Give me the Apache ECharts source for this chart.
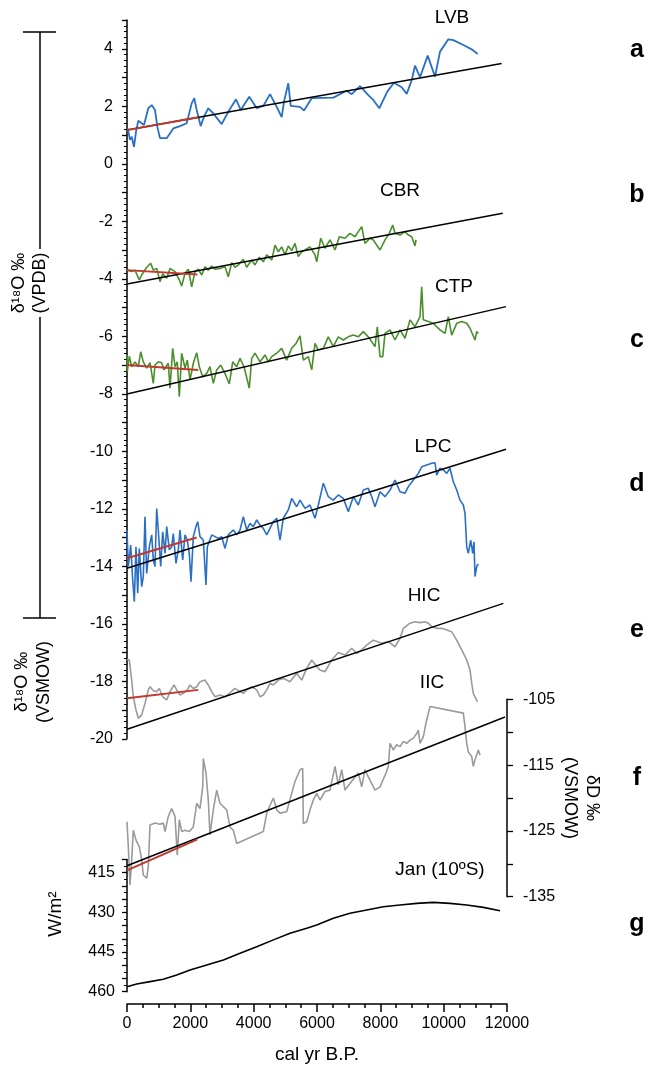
<!DOCTYPE html>
<html>
<head>
<meta charset="utf-8">
<script src="https://cdn.jsdelivr.net/npm/echarts@6/dist/echarts.min.js"></script>
<style>html,body{margin:0;padding:0;background:#fff}#c{width:649px;height:1067px}</style>
</head>
<body>
<div id="c"></div>
<script>
// ---------- DATA (x = cal yr B.P.) ----------
const LVB = [[22,1.23],[95,0.83],[148,0.94],[221,0.59],[284,1.11],[357,1.50],[464,1.41],[537,1.35],[673,1.93],[780,2.04],[884,1.87],[957,1.29],[1042,0.89],[1254,0.89],[1462,1.23],[1674,1.31],[1885,1.41],[2043,2.10],[2125,2.28],[2201,1.87],[2327,1.31],[2432,1.64],[2567,1.93],[2725,1.75],[2990,1.38],[3199,1.81],[3442,2.24],[3591,1.87],[3862,2.33],[4096,1.93],[4304,2.01],[4516,2.42],[4727,1.98],[4885,1.62],[4958,2.16],[5094,2.80],[5170,2.01],[5463,1.98],[5590,1.85],[5833,2.28],[6515,2.30],[6938,2.54],[7096,2.42],[7358,2.70],[7620,2.39],[7778,2.22],[7968,1.93],[8220,2.51],[8432,2.82],[8675,2.66],[8833,2.43],[8991,2.91],[9095,3.41],[9253,3.01],[9496,3.76],[9727,3.03],[9885,3.90],[10147,4.33],[10305,4.30],[10621,4.13],[10886,3.98],[11075,3.82]];
const CBR = [[0,-3.70],[148,-3.75],[253,-3.70],[388,-4.04],[464,-3.87],[622,-3.60],[748,-3.46],[831,-3.70],[938,-3.64],[1042,-4.10],[1127,-3.83],[1254,-3.98],[1358,-3.64],[1516,-3.75],[1652,-4.04],[1727,-4.25],[1832,-3.81],[1936,-3.67],[2043,-4.28],[2147,-3.75],[2252,-3.67],[2359,-3.87],[2463,-3.58],[2567,-3.70],[2675,-3.56],[2779,-3.67],[2937,-3.64],[3095,-3.58],[3199,-3.93],[3306,-3.44],[3411,-3.60],[3515,-3.52],[3673,-3.32],[3780,-3.60],[3938,-3.35],[4042,-3.52],[4178,-3.25],[4304,-3.41],[4412,-3.17],[4570,-3.35],[4674,-2.83],[4778,-3.06],[4885,-2.89],[4990,-3.17],[5094,-2.86],[5201,-3.02],[5305,-2.77],[5410,-3.23],[5517,-3.06],[5621,-3.00],[5779,-2.89],[5937,-3.17],[5991,-3.41],[6117,-2.59],[6253,-2.94],[6411,-2.65],[6569,-3.00],[6704,-2.54],[6884,-2.59],[7042,-2.42],[7200,-2.54],[7304,-2.36],[7412,-2.19],[7516,-2.77],[7674,-2.59],[7778,-2.65],[7990,-3.00],[8148,-2.65],[8283,-2.42],[8391,-2.13],[8464,-2.42],[8622,-2.48],[8779,-2.36],[8884,-2.48],[8991,-2.54],[9095,-2.86],[9127,-2.65]];
const CTP = [[0,-6.65],[10,-7.23],[73,-6.69],[148,-7.06],[253,-6.89],[357,-7.06],[433,-6.54],[515,-6.89],[622,-7.11],[727,-6.92],[831,-7.64],[884,-7.00],[989,-6.89],[1096,-6.92],[1168,-7.17],[1304,-6.94],[1358,-7.81],[1443,-6.42],[1516,-7.06],[1588,-6.89],[1652,-8.10],[1727,-6.59],[1832,-7.11],[1904,-6.83],[1990,-7.52],[2094,-6.94],[2201,-6.57],[2283,-7.06],[2391,-7.41],[2517,-7.29],[2621,-7.06],[2725,-7.64],[2833,-7.17],[2959,-7.00],[3095,-7.29],[3231,-7.66],[3338,-6.89],[3464,-7.06],[3569,-6.77],[3695,-7.06],[3862,-7.81],[3938,-6.77],[4042,-6.59],[4200,-6.89],[4358,-6.65],[4462,-6.89],[4570,-6.71],[4727,-6.59],[4885,-6.42],[5043,-6.83],[5201,-6.42],[5337,-6.25],[5463,-5.99],[5568,-6.83],[5726,-6.71],[5833,-7.17],[5937,-6.25],[6042,-6.48],[6200,-6.42],[6357,-6.02],[6515,-6.36],[6673,-6.02],[6831,-6.13],[6989,-6.02],[7147,-5.96],[7304,-6.02],[7462,-5.84],[7620,-6.02],[7832,-6.36],[7904,-5.67],[7990,-6.71],[8075,-6.71],[8148,-5.90],[8306,-5.78],[8464,-6.13],[8622,-5.78],[8779,-6.07],[8937,-5.43],[9095,-5.67],[9253,-5.32],[9307,-4.28],[9357,-5.43],[9515,-5.49],[9673,-5.55],[9780,-5.67],[9885,-5.78],[10043,-5.90],[10147,-5.32],[10254,-5.96],[10412,-5.55],[10570,-5.49],[10728,-5.55],[10832,-5.72],[10990,-6.13],[11043,-5.84],[11094,-5.90]];
const LPC = [[0,-12.74],[41,-14.01],[117,-13.26],[180,-14.48],[231,-15.23],[284,-13.32],[338,-14.94],[388,-13.38],[464,-14.71],[515,-14.36],[568,-12.28],[622,-14.25],[704,-13.32],[780,-12.91],[831,-13.78],[884,-14.01],[938,-11.99],[988,-12.74],[1064,-14.01],[1127,-12.80],[1200,-13.55],[1254,-12.62],[1336,-13.43],[1412,-13.32],[1462,-12.86],[1547,-13.90],[1620,-13.43],[1674,-12.74],[1759,-13.78],[1832,-12.91],[1904,-13.09],[1967,-13.55],[2021,-14.54],[2094,-12.97],[2179,-12.62],[2233,-12.45],[2305,-12.97],[2410,-13.09],[2495,-14.65],[2536,-13.32],[2675,-12.91],[2779,-12.97],[2883,-13.03],[2991,-12.97],[3095,-13.38],[3199,-12.91],[3357,-12.74],[3464,-12.91],[3569,-12.74],[3673,-12.28],[3780,-12.74],[3884,-12.51],[3989,-12.62],[4096,-12.39],[4200,-12.57],[4304,-12.68],[4412,-12.91],[4516,-12.68],[4620,-12.45],[4727,-12.33],[4832,-13.09],[4936,-12.33],[5094,-12.04],[5201,-11.64],[5359,-11.93],[5463,-11.70],[5621,-11.99],[5779,-11.87],[5937,-12.33],[6042,-11.87],[6200,-11.11],[6357,-11.58],[6515,-11.70],[6673,-11.52],[6831,-11.64],[6989,-12.10],[7147,-11.58],[7304,-11.87],[7462,-11.35],[7620,-11.29],[7728,-11.58],[7832,-11.93],[7990,-11.41],[8148,-11.58],[8306,-11.35],[8464,-11.00],[8622,-11.41],[8779,-11.46],[8884,-11.23],[9042,-11.00],[9199,-10.77],[9307,-10.54],[9465,-10.48],[9622,-10.42],[9727,-10.40],[9780,-10.83],[9885,-10.59],[9989,-10.65],[10096,-10.77],[10200,-10.59],[10305,-11.06],[10412,-11.35],[10516,-11.70],[10621,-11.87],[10674,-12.16],[10728,-13.32],[10778,-13.55],[10854,-13.09],[10917,-13.55],[10958,-13.15],[10990,-14.36],[11043,-14.01],[11094,-13.92]];
const HIC = [[0,-17.24],[73,-17.26],[148,-17.96],[199,-18.54],[284,-19.00],[357,-19.29],[464,-19.17],[568,-18.77],[673,-18.30],[727,-18.19],[831,-18.33],[938,-18.36],[1020,-18.25],[1127,-18.54],[1254,-18.65],[1358,-18.36],[1484,-18.13],[1569,-18.30],[1674,-18.48],[1778,-18.42],[1904,-18.30],[1990,-18.13],[2094,-18.25],[2201,-18.19],[2305,-18.02],[2463,-17.96],[2567,-18.13],[2675,-18.36],[2779,-18.54],[2937,-18.48],[3095,-18.54],[3253,-18.40],[3411,-18.25],[3569,-18.36],[3673,-18.42],[3780,-18.30],[3938,-18.19],[4096,-18.30],[4200,-18.54],[4304,-18.48],[4412,-18.30],[4516,-18.07],[4620,-18.13],[4778,-17.96],[4936,-17.90],[5148,-18.02],[5359,-17.72],[5517,-17.96],[5675,-17.55],[5833,-17.26],[5991,-17.49],[6095,-17.61],[6253,-17.67],[6464,-17.26],[6673,-17.00],[6884,-17.09],[7096,-16.85],[7254,-17.03],[7412,-16.91],[7569,-16.74],[7778,-16.57],[8043,-16.68],[8252,-16.62],[8464,-16.80],[8622,-16.51],[8726,-16.16],[8937,-15.98],[9095,-15.93],[9253,-15.96],[9411,-15.93],[9515,-15.98],[9622,-16.10],[9780,-16.16],[9938,-16.16],[10096,-16.22],[10254,-16.28],[10412,-16.57],[10570,-16.91],[10728,-17.26],[10832,-17.61],[10886,-18.07],[10936,-18.42],[11063,-18.71]];
const IIC = [[0,-123.6],[41,-127.4],[95,-133.2],[148,-129.4],[199,-124.9],[284,-126.4],[388,-127.4],[464,-129.4],[515,-131.7],[622,-132.2],[673,-130.4],[727,-124.1],[884,-123.8],[1042,-124.0],[1146,-123.8],[1200,-125.1],[1304,-122.8],[1412,-121.6],[1516,-122.8],[1588,-128.7],[1652,-123.3],[1727,-125.1],[1832,-124.9],[1967,-125.1],[2094,-124.4],[2201,-120.8],[2305,-121.6],[2391,-118.3],[2410,-114.0],[2495,-116.2],[2567,-120.3],[2621,-125.6],[2725,-121.8],[2833,-118.8],[2937,-120.8],[3041,-121.3],[3148,-121.8],[3253,-124.4],[3357,-124.9],[3464,-126.9],[4304,-125.1],[4412,-122.3],[4516,-121.1],[4620,-120.0],[4727,-121.8],[4832,-122.3],[5043,-122.1],[5201,-119.3],[5305,-117.5],[5359,-117.2],[5463,-115.7],[5549,-115.5],[5568,-123.9],[5675,-123.6],[5779,-121.8],[5884,-120.3],[5991,-119.3],[6095,-120.3],[6253,-119.0],[6411,-118.8],[6569,-115.2],[6673,-118.0],[6780,-115.7],[6884,-118.8],[7042,-117.8],[7304,-116.2],[7412,-118.3],[7516,-115.7],[7620,-116.8],[7728,-117.8],[7832,-118.8],[7990,-118.3],[8179,-116.2],[8252,-115.2],[8306,-111.7],[8411,-112.7],[8517,-111.9],[8622,-112.2],[8726,-111.4],[8833,-111.7],[8937,-111.2],[9042,-110.9],[9149,-110.2],[9199,-109.7],[9253,-111.7],[9357,-110.7],[9443,-108.6],[9569,-106.1],[10621,-107.1],[10674,-109.2],[10728,-111.7],[10778,-113.0],[10886,-113.7],[10936,-115.2],[10990,-114.2],[11094,-112.7],[11148,-113.5]];
const JAN10S = [[0,458.1],[306,457.1],[727,456.2],[1146,455.3],[1570,453.7],[1990,451.8],[2517,449.9],[3044,448.0],[3569,445.5],[4096,443.0],[4623,440.4],[5148,437.9],[5675,436.0],[5991,434.8],[6515,432.2],[7042,430.3],[7569,429.1],[8095,427.9],[8622,427.2],[9149,426.6],[9673,426.2],[10200,426.6],[10727,427.2],[11252,428.1],[11780,429.4]];
// linear trends (black) and 0-2.2 ka trends (red)
const TREND_LVB = [[0,1.17],[11830,3.49]];
const TREND_CBR = [[0,-4.18],[11865,-1.72]];
const TREND_CTP = [[0,-8.01],[11970,-4.97]];
const TREND_LPC = [[0,-14.07],[11970,-9.93]];
const TREND_HIC = [[0,-19.67],[11884,-15.29]];
const TREND_IIC = [[0,-130.3],[11937,-107.7]];
const RED_LVB = [[0,1.17],[2250,1.62]];
const RED_CBR = [[0,-3.70],[2220,-3.85]];
const RED_CTP = [[0,-7.00],[2250,-7.17]];
const RED_LPC = [[0,-13.72],[2200,-13.00]];
const RED_HIC = [[0,-18.59],[2250,-18.30]];
const RED_IIC = [[0,-131.0],[2220,-126.3]];
// tick labels
const X_TICKS = [0,2000,4000,6000,8000,10000,12000];
const D18O_LABELS = [-20,-18,-16,-14,-12,-10,-8,-6,-4,-2,0,2,4];
const DD_LABELS = [-135,-125,-115,-105];
const INSOL_LABELS = [415,430,445,460];
const PANEL_NAMES = ['LVB','CBR','CTP','LPC','HIC','IIC','Jan (10ºS)'];
const PANEL_LETTERS = ['a','b','c','d','e','f','g'];

// ---------- CHART ----------
const FF = '"Liberation Sans", Arial, Helvetica, sans-serif';
const chart = echarts.init(document.getElementById('c'), null, {renderer:'canvas'});
const BLUE = '#2a6fc6', GREEN = '#4b8e2c', GRAY = '#9a9a9a', RED = '#c0392f';

function ln(data, yi, color, width, z){
  const xi = yi === 0 ? 0 : (yi === 1 ? 1 : 2);
  return {type:'line', xAxisIndex:xi, yAxisIndex:yi, data:data, showSymbol:false, symbol:'none',
    lineStyle:{color:color, width:width}, z:z, silent:true, animation:false, clip:false};
}
const L = 127, W = 380;
const blackAxis = {show:true, onZero:false, lineStyle:{color:'#000', width:1.5}};
const TF = 16; // tick label font size

const namePos = [[452,18],[400,191],[454,287],[433,447],[424,596],[432,683],[440,870]];
const letterY = [50,195,340,484,630,778,924];

const graphics = [];
PANEL_NAMES.forEach((n,i)=>graphics.push({type:'text', x:namePos[i][0], y:namePos[i][1],
  style:{text:n, fontSize:19, fontFamily:FF, fill:'#000', align:'center', verticalAlign:'middle'}}));
PANEL_LETTERS.forEach((n,i)=>graphics.push({type:'text', x:637, y:letterY[i],
  style:{text:n, fontSize:25, fontWeight:'bold', fontFamily:FF, fill:'#000', align:'center', verticalAlign:'middle'}}));
// bracket for VPDB records
const br = {stroke:'#000', lineWidth:1.5};
graphics.push({type:'line', shape:{x1:40,y1:32,x2:40,y2:249}, style:br});
graphics.push({type:'line', shape:{x1:40,y1:317,x2:40,y2:618}, style:br});
graphics.push({type:'line', shape:{x1:23,y1:32,x2:56,y2:32}, style:br});
graphics.push({type:'line', shape:{x1:23,y1:618,x2:56,y2:618}, style:br});
graphics.push({type:'text', x:30, y:283, rotation:Math.PI/2,
  style:{text:'δ¹⁸O ‰\n(VPDB)', fontSize:18, lineHeight:21, fontFamily:FF, fill:'#000', align:'center', verticalAlign:'middle'}});
graphics.push({type:'text', x:33, y:682, rotation:Math.PI/2,
  style:{text:'δ¹⁸O ‰\n(VSMOW)', fontSize:18, lineHeight:22, fontFamily:FF, fill:'#000', align:'center', verticalAlign:'middle'}});
graphics.push({type:'text', x:56, y:914, rotation:Math.PI/2,
  style:{text:'W/m²', fontSize:19, fontFamily:FF, fill:'#000', align:'center', verticalAlign:'middle'}});
graphics.push({type:'text', x:581, y:798, rotation:-Math.PI/2,
  style:{text:'δD ‰\n(VSMOW)', fontSize:18, lineHeight:22, fontFamily:FF, fill:'#000', align:'center', verticalAlign:'middle'}});
graphics.push({type:'text', x:L+W/2, y:1055,
  style:{text:'cal yr B.P.', fontSize:19, fontFamily:FF, fill:'#000', align:'center', verticalAlign:'middle'}});

const option = {
  animation:false,
  backgroundColor:'#fff',
  grid:[
    {left:L, width:W, top:20, height:718.75},
    {left:L, width:W, top:699.3, height:197.4},
    {left:L, width:W, top:859.5, height:132.2}
  ],
  xAxis:[
    {gridIndex:0, type:'value', min:0, max:12000, show:false},
    {gridIndex:1, type:'value', min:0, max:12000, show:false},
    {gridIndex:2, type:'value', min:0, max:12000, interval:2000, position:'bottom', offset:12.3,
      axisLine:blackAxis, splitLine:{show:false},
      axisTick:{length:8, lineStyle:{color:'#000', width:1.5}},
      minorTick:{show:true, splitNumber:4, length:4, lineStyle:{color:'#000', width:1.5}},
      axisLabel:{fontSize:TF, fontFamily:FF, color:'#000', margin:12,
        formatter:v=>X_TICKS.indexOf(v)>=0?String(v):''}}
  ],
  yAxis:[
    {gridIndex:0, type:'value', min:-20, max:5, interval:1, position:'left',
      axisLine:blackAxis, splitLine:{show:false},
      axisTick:{length:5, lineStyle:{color:'#000', width:1.3}},
      minorTick:{show:true, splitNumber:5, length:3, lineStyle:{color:'#000', width:1}},
      axisLabel:{fontSize:TF, fontFamily:FF, color:'#000', margin:14,
        formatter:v=>D18O_LABELS.indexOf(v)>=0?String(v):''}},
    {gridIndex:1, type:'value', min:-135, max:-105, interval:5, position:'right',
      axisLine:blackAxis, splitLine:{show:false},
      axisTick:{length:6, lineStyle:{color:'#000', width:1.3}},
      axisLabel:{fontSize:TF, fontFamily:FF, color:'#000', margin:16,
        formatter:v=>DD_LABELS.indexOf(v)>=0?String(v):''}},
    {gridIndex:2, type:'value', min:410, max:460, interval:5, inverse:true, position:'left',
      axisLine:blackAxis, splitLine:{show:false},
      axisTick:{length:5, lineStyle:{color:'#000', width:1.3}},
      minorTick:{show:true, splitNumber:2, length:3, lineStyle:{color:'#000', width:1}},
      axisLabel:{fontSize:TF, fontFamily:FF, color:'#000', margin:12,
        formatter:v=>INSOL_LABELS.indexOf(v)>=0?String(v):''}}
  ],
  series:[
    ln(LVB,0,BLUE,1.8,2), ln(CBR,0,GREEN,1.6,2), ln(CTP,0,GREEN,1.6,2), ln(LPC,0,BLUE,1.6,2), ln(HIC,0,GRAY,1.6,2),
    ln(IIC,1,GRAY,1.6,2), ln(JAN10S,2,'#000',1.6,2),
    ln(TREND_LVB,0,'#000',1.5,3), ln(TREND_CBR,0,'#000',1.5,3), ln(TREND_CTP,0,'#000',1.5,3),
    ln(TREND_LPC,0,'#000',1.5,3), ln(TREND_HIC,0,'#000',1.5,3), ln(TREND_IIC,1,'#000',1.5,3),
    ln(RED_LVB,0,RED,2,4), ln(RED_CBR,0,RED,2,4), ln(RED_CTP,0,RED,2,4),
    ln(RED_LPC,0,RED,2,4), ln(RED_HIC,0,RED,2,4), ln(RED_IIC,1,RED,2,4)
  ],
  graphic:{elements:graphics}
};
chart.setOption(option);
</script>
</body>
</html>
